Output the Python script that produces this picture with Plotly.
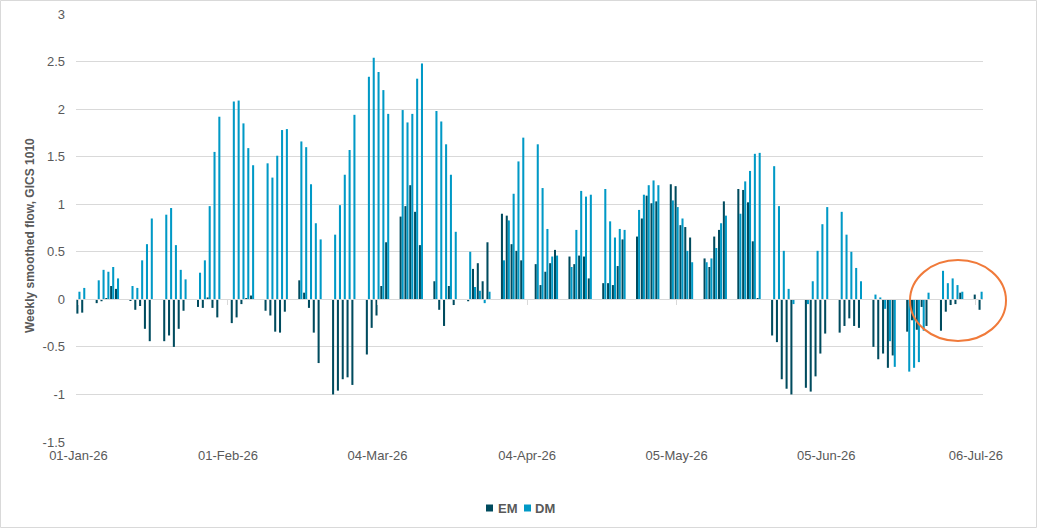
import pandas as pd
import plotly.graph_objects as go

# business days shown on the chart, 01-Jan-26 .. 07-Jul-26
dates = pd.bdate_range("2026-01-01", "2026-07-07")

# one row per week (Mon-Fri)
em = [
    -0.15, -0.14,                          # 1-2 Jan
    -0.04, -0.02, 0.01, 0.14, 0.11,        # 5 Jan
    -0.01, -0.11, -0.07, -0.31, -0.44,
    -0.44, -0.38, -0.50, -0.31, -0.12,
    -0.08, -0.09, 0.02, -0.09, -0.19,
    -0.25, -0.19, -0.05, 0.01, 0.04,       # 2 Feb
    -0.12, -0.17, -0.34, -0.35, -0.13,
    0.20, 0.07, -0.09, -0.35, -0.67,
    -1.00, -0.96, -0.84, -0.82, -0.90,
    -0.58, -0.30, -0.17, 0.14, 0.60,       # 2 Mar
    0.87, 0.98, 1.20, 0.92, 0.57,
    0.19, -0.11, -0.28, 0.14, -0.06,
    -0.02, 0.32, 0.38, 0.19, 0.60,
    0.90, 0.88, 0.58, 0.51, 0.41,          # 30 Mar
    0.37, 0.15, 0.29, 0.38, 0.52,
    0.45, 0.37, 0.46, 0.45, 0.22,
    0.17, 0.17, 0.15, 0.35, 0.63,
    0.66, 0.85, 1.09, 1.01, 1.03,          # 27 Apr
    1.21, 1.19, 0.78, 0.76, 0.65,
    0.43, 0.34, 0.66, 0.73, 1.03,
    1.16, 1.15, 1.02, 0.61, 0.01,
    -0.38, -0.45, -0.84, -0.94, -1.00,     # 25 May
    -0.93, -0.97, -0.81, -0.57, -0.36,
    -0.35, -0.28, -0.20, -0.28, -0.30,
    -0.50, -0.63, -0.57, -0.72, -0.59,
    -0.34, -0.22, -0.32, -0.08, -0.28,
    -0.33, -0.13, -0.06, -0.05, 0.07,      # 29 Jun
    0.05, -0.11,                           # 6-7 Jul
]
dm = [
    0.08, 0.12,
    0.20, 0.31, 0.29, 0.34, 0.22,
    0.14, 0.12, 0.41, 0.58, 0.85,
    0.89, 0.96, 0.57, 0.31, 0.21,
    0.28, 0.41, 0.98, 1.55, 1.92,
    2.08, 2.09, 1.85, 1.59, 1.41,
    1.43, 1.28, 1.51, 1.78, 1.79,
    1.66, 1.60, 1.21, 0.80, 0.63,
    0.68, 0.99, 1.31, 1.57, 1.94,
    2.34, 2.54, 2.39, 2.20, 1.95,
    1.99, 1.86, 1.95, 2.32, 2.48,
    1.98, 1.87, 1.63, 1.31, 0.71,
    0.50, 0.13, 0.09, -0.04, 0.08,
    0.41, 0.83, 1.11, 1.45, 1.70,
    1.63, 1.17, 0.74, 0.45, 0.46,
    0.34, 0.73, 1.14, 1.08, 1.10,
    1.16, 0.82, 0.65, 0.74, 0.73,
    0.94, 1.10, 1.20, 1.25, 1.20,
    1.04, 0.97, 0.85, 0.51, 0.39,
    0.39, 0.43, 0.54, 0.80, 0.88,
    0.90, 1.24, 1.35, 1.53, 1.54,
    1.40, 0.98, 0.51, 0.11, -0.05,
    -0.05, 0.19, 0.51, 0.79, 0.97,
    0.92, 0.68, 0.50, 0.33, 0.19,
    0.05, 0.02, -0.10, -0.44, -0.71,
    -0.76, -0.72, -0.66, -0.33, 0.07,
    0.30, 0.17, 0.22, 0.15, 0.08,
    0.00, 0.08,
]
assert len(em) == len(dates) == len(dm)

tick_dates = ["2026-01-01", "2026-02-01", "2026-03-04", "2026-04-04",
              "2026-05-05", "2026-06-05", "2026-07-06"]
y_ticks = [-1.5, -1, -0.5, 0, 0.5, 1, 1.5, 2, 2.5, 3]

EM_COL = "#004B5E"
DM_COL = "#0099C6"
GRID = "#D9D9D9"
TXT = "#595959"

# pixel layout of the 1037x528 picture
W, H = 1037, 528
L, R, T, B = 76, 983, 14, 442
pw, ph = R - L, B - T


def px(x):
    return (x - L) / pw


def py(y):
    return (B - y) / ph


fig = go.Figure()
fig.add_trace(go.Bar(x=dates, y=em, name="EM", marker_color=EM_COL,
                     marker_line_width=0))
fig.add_trace(go.Bar(x=dates, y=dm, name="DM", marker_color=DM_COL,
                     marker_line_width=0))
# axis at zero carrying the tick marks
fig.add_trace(go.Scatter(x=[dates[0]], y=[None], xaxis="x2", hoverinfo="skip"))

fig.update_layout(
    width=W, height=H,
    margin=dict(l=L, r=W - R, t=T, b=H - B, autoexpand=False),
    paper_bgcolor="white", plot_bgcolor="white",
    font=dict(family="Liberation Sans, Arial, sans-serif", size=13, color=TXT),
    barmode="group", bargap=0.15, bargroupgap=0,
    showlegend=False,
    xaxis=dict(
        type="date", range=["2025-12-31 12:00", "2026-07-07 12:00"],
        tickvals=tick_dates, tickformat="%d-%b-%y",
        showgrid=False, zeroline=False, showline=False, ticks="",
        ticklabelstandoff=4,
    ),
    xaxis2=dict(
        overlaying="x", matches="x", anchor="free", position=1.5 / 4.5,
        tickvals=tick_dates, showticklabels=False, ticks="outside",
        ticklen=5, tickcolor=GRID, showgrid=False, zeroline=False,
        showline=True, linecolor=GRID, linewidth=1,
    ),
    yaxis=dict(
        range=[-1.5, 3], tickvals=y_ticks, ticktext=[f"{v:g}" for v in y_ticks],
        showgrid=True, gridcolor=GRID, gridwidth=1, zeroline=False,
        showline=False, ticks="", ticklabelstandoff=10,
    ),
)

fig.add_annotation(
    text="<b>Weekly smoothed flow, GICS 1010</b>", textangle=-90,
    xref="paper", yref="paper", x=px(30), y=py(236),
    xanchor="center", yanchor="middle",
    showarrow=False, font=dict(size=12, color=TXT),
)

# legend drawn by hand: small squares + bold labels
for nm, col, sq_x, txt_x in [("EM", EM_COL, 486, 496), ("DM", DM_COL, 524, 533)]:
    fig.add_shape(type="rect", xref="paper", yref="paper",
                  x0=px(sq_x), x1=px(sq_x + 7), y0=py(511.5), y1=py(504.5),
                  fillcolor=col, line_width=0)
    fig.add_annotation(text=f"<b>{nm}</b>", xref="paper", yref="paper",
                       x=px(txt_x), y=py(508), xanchor="left", yanchor="middle",
                       showarrow=False, font=dict(size=13, color=TXT))

# orange highlight ring
fig.add_shape(type="circle", xref="paper", yref="paper",
              x0=px(910), x1=px(1006), y0=py(341), y1=py(260),
              line=dict(color="#F07A3A", width=2), fillcolor="rgba(0,0,0,0)")
# chart border
fig.add_shape(type="rect", xref="paper", yref="paper",
              x0=px(0.5), x1=px(W - 0.5), y0=py(H - 0.5), y1=py(0.5),
              line=dict(color=GRID, width=1))

# the page's default body margin would shift the chart by 8px
fig.write_html("out.html", config={"displayModeBar": False},
               post_script="document.body.style.margin='0';")
